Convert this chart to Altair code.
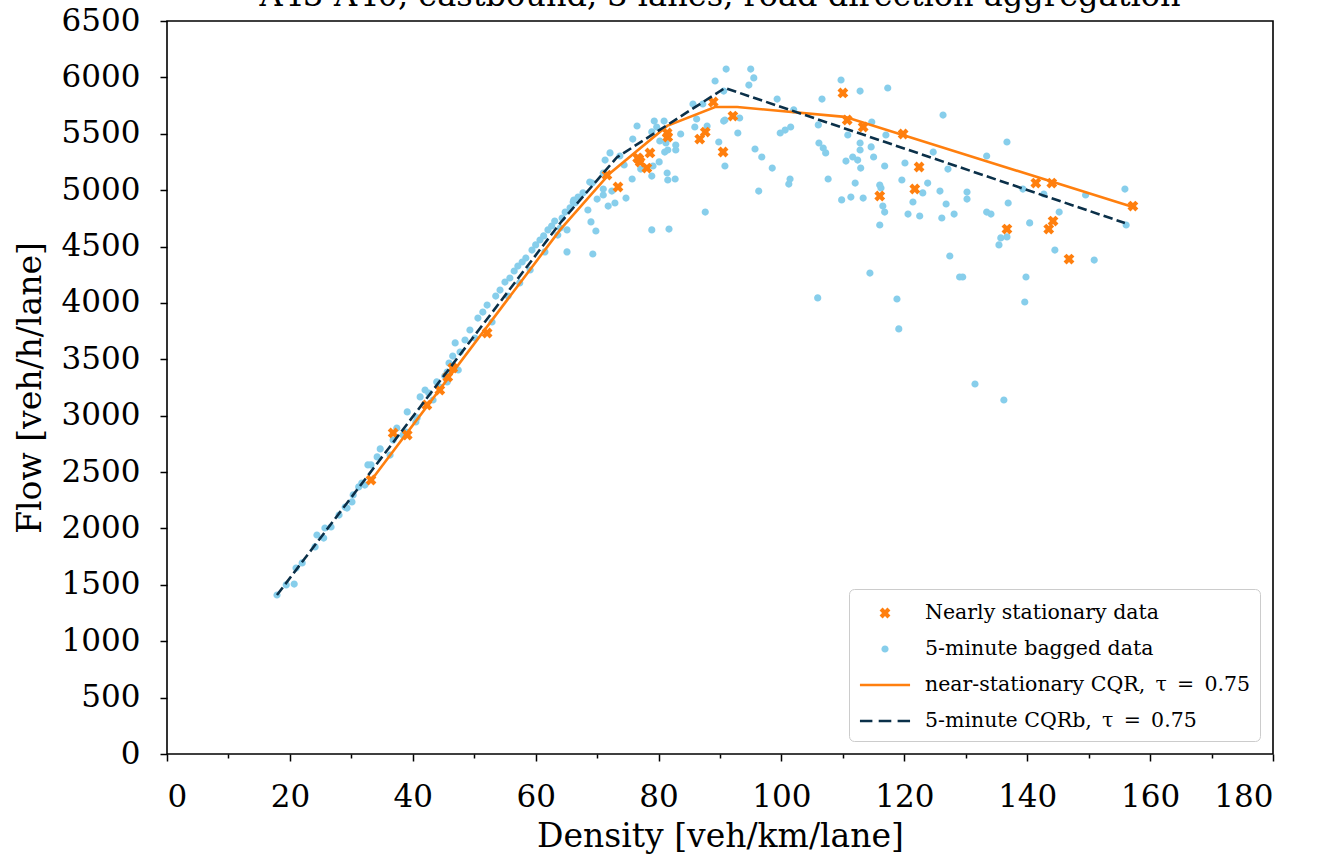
import altair as alt
import pandas as pd
import numpy as np

# ---------------- data ----------------
blue_density = [17.9, 19.4, 20.7, 21.0, 22.0, 24.1, 24.4, 25.5, 25.7, 26.7, 28.0, 29.0, 29.3, 30.1, 30.3,
                31.2, 31.7, 32.2, 32.7, 33.2, 34.2, 34.7, 36.3, 36.8, 37.4, 38.4, 38.9, 39.1, 40.7, 40.5,
                41.2, 42.0, 42.6, 43.3, 43.9, 44.4, 45.2, 45.6, 45.6, 45.9, 46.5, 46.9, 47.4, 47.7, 48.5,
                49.3, 50.1, 50.6, 51.4, 52.1, 52.9, 53.5, 54.2, 55.0, 55.8, 55.5, 56.5, 57.1, 57.8, 57.4,
                58.4, 59.1, 59.4, 60.0, 60.7, 61.3, 62.0, 61.5, 62.6, 63.1, 63.6, 64.3, 64.8, 65.6, 66.2,
                64.0, 65.1, 65.1, 66.4, 66.9, 66.1, 67.7, 68.5, 69.0, 69.8, 69.3, 68.8, 69.2, 70.0, 71.0,
                71.0, 71.0, 71.3, 72.1, 71.8, 72.4, 72.9, 73.7, 74.4, 74.7, 75.7, 75.8, 76.5, 77.1, 78.9,
                78.9, 78.9, 79.1, 79.3, 79.7, 80.1, 80.2, 80.9, 81.0, 81.2, 81.4, 81.5, 81.5, 81.7, 82.7,
                82.8, 82.8, 83.6, 85.6, 85.9, 86.2, 87.2, 87.6, 87.9, 89.2, 89.8, 90.6, 90.6, 90.8, 90.8,
                91.0, 92.9, 93.2, 94.7, 95.0, 95.5, 95.7, 96.3, 96.8, 98.5, 99.3, 99.8, 100.6, 101.2, 101.4,
                101.5, 102.0, 105.9, 106.0, 106.1, 106.6, 106.8, 107.2, 107.6, 109.7, 109.8, 110.5, 110.8,
                111.3, 111.6, 112.0, 112.4, 112.8, 112.8, 112.8, 112.9, 113.3, 114.4, 114.6, 114.7, 115.0,
                116.0, 116.0, 116.2, 116.5, 116.8, 116.8, 117.0, 117.3, 118.8, 119.1, 119.6, 120.1, 120.6,
                121.4, 122.5, 123.0, 123.8, 124.7, 125.8, 126.1, 126.3, 126.8, 127.1, 127.4, 128.1, 129.0,
                129.5, 130.2, 130.2, 131.5, 133.4, 133.4, 134.1, 135.4, 135.7, 136.2, 136.7, 136.7, 136.9,
                139.3, 139.6, 139.8, 140.4, 142.7, 144.5, 145.2, 149.5, 150.9, 155.9, 156.1]
blue_flow = [1410, 1499, 1507, 1649, 1694, 1836, 1942, 1915, 2004, 2013, 2119, 2190, 2181, 2235, 2297,
             2368, 2403, 2385, 2563, 2563, 2634, 2705, 2651, 2784, 2891, 2829, 2855, 3033, 2980, 2944,
             3166, 3228, 3201, 3139, 3299, 3254, 3352, 3387, 3299, 3467, 3529, 3645, 3405, 3565, 3671,
             3760, 3689, 3866, 3919, 3981, 3831, 4061, 4114, 4185, 4221, 4061, 4283, 4327, 4363, 4177,
             4398, 4292, 4469, 4514, 4558, 4594, 4647, 4452, 4682, 4726, 4602, 4753, 4806, 4842, 4912,
             4664, 4647, 4452, 4886, 4939, 4895, 4975, 4824, 4718, 4638, 4434, 5072, 5063, 4921, 5010,
             5152, 4957, 5267, 5330, 4859, 4992, 4886, 5303, 5223, 4930, 5099, 5453, 5569, 5187, 5516,
             5125, 4647, 5214, 5613, 5560, 5250, 5436, 5613, 5338, 5418, 5152, 5356, 5090, 4655, 5099,
             5400, 5356, 5498, 5764, 5560, 5631, 5764, 4806, 5569, 5968, 5427, 5879, 5613, 5622, 5214,
             6074, 5507, 5640, 5932, 6074, 5995, 5365, 4992, 5294, 5196, 5808, 5507, 5533, 5054, 5099,
             5560, 5711, 4044, 5578, 5418, 5808, 5374, 5330, 5099, 5977, 4913, 5258, 5489,
             4939, 5294, 5063, 5267, 5879, 5418, 5356, 5196, 4930, 4265, 5383, 5604, 5294,
             5045, 4691, 5019, 4859, 4806, 5214, 5489, 5906, 4035, 3769, 5090, 5241, 4788,
             4895, 4771, 4975, 5063, 5338, 4992, 4753, 5666, 4877, 5187, 4416, 4788, 4230,
             4230, 4983, 4921, 3281, 5303, 4806, 4788, 4514, 4576, 3139, 4585, 5427, 4886,
             5010, 4008, 4230, 4709, 4966, 4469, 4806, 4957, 4380, 5010, 4691]

orange_density = [33.2, 36.8, 39.1, 42.3, 44.4, 45.7, 46.5, 52.1, 71.6, 73.4, 76.6, 76.8, 77.0, 78.1,
                  78.6, 81.4, 81.5, 86.7, 87.6, 88.9, 90.5, 92.1, 110.0, 110.7, 113.3, 116.0, 119.8,
                  121.7, 122.4, 136.7, 141.4, 143.5, 144.0, 144.2, 146.8, 157.2]
orange_flow = [2430, 2847, 2829, 3095, 3228, 3343, 3423, 3733, 5134, 5028, 5285, 5276, 5250, 5196,
               5330, 5507, 5471, 5453, 5515, 5782, 5338, 5657, 5862, 5622, 5560, 4948, 5498,
               5010, 5205, 4655, 5063, 4655, 5063, 4726, 4389, 4859]

cqr_density = [33.0, 64.0, 72.1, 81.4, 89.2, 92.8, 110.3, 157.2]
cqr_flow = [2410, 4650, 5150, 5570, 5737, 5737, 5650, 4850]

cqrb_density = [17.9, 64.0, 73.2, 90.8, 155.9]
cqrb_flow = [1410, 4709, 5290, 5906, 4709]

series_names = ["Nearly stationary data", "5-minute bagged data",
                "near-stationary CQR,\u2002τ\u2002=\u20020.75", "5-minute CQRb,\u2002τ\u2002=\u20020.75"]
series_colors = ["#ff7f0e", "#87ceeb", "#ff7f0e", "#0b3049"]

x_ticks = list(range(0, 181, 10))
y_ticks = list(range(0, 6501, 250))

# ---------------- symbol shapes (unit square -1..1) ----------------
def x_marker(L=0.37, w=0.14):
    pts = [(-w, L), (w, L), (w, w), (L, w), (L, -w), (w, -w), (w, -L), (-w, -L),
           (-w, -w), (-L, -w), (-L, w), (-w, w)]
    c = np.cos(np.pi / 4)
    rot = [((px - py) * c, (px + py) * c) for px, py in pts]
    return "M" + "L".join(f"{a:.3f},{b:.3f}" for a, b in rot) + "Z"

def circle(r=0.24):
    return f"M{r},0A{r},{r} 0 1,1 {-r},0A{r},{r} 0 1,1 {r},0Z"

def rect(x0, x1, h=0.085):
    return f"M{x0},{-h}H{x1}V{h}H{x0}Z"

line_path = rect(-1.67, 1.67)
dash_path = rect(-1.67, -0.84) + " " + rect(-0.42, 0.42) + " " + rect(0.84, 1.67)
series_shapes = [x_marker(), circle(), line_path, dash_path]

# ---------------- tables ----------------
pts = pd.concat([
    pd.DataFrame({"density": blue_density, "flow": blue_flow, "series": series_names[1]}),
    pd.DataFrame({"density": orange_density, "flow": orange_flow, "series": series_names[0]}),
], ignore_index=True)
cqr = pd.DataFrame({"density": cqr_density, "flow": cqr_flow})
cqrb = pd.DataFrame({"density": cqrb_density, "flow": cqrb_flow})

FONT = "DejaVu Serif"

x_enc = alt.X("density:Q", scale=alt.Scale(domain=[0, 180], nice=False),
              axis=alt.Axis(values=x_ticks, title="Density [veh/km/lane]", format="d",
                            labelExpr="datum.value % 20 === 0 ? datum.label : ''",
                            labelPadding=21, titlePadding=8,
                            tickSize={"condition": {"test": "datum.value % 20 === 0", "value": 7}, "value": 4}))
y_enc = alt.Y("flow:Q", scale=alt.Scale(domain=[0, 6500], nice=False),
              axis=alt.Axis(values=y_ticks, title="Flow [veh/h/lane]", format="d",
                            labelExpr="datum.value % 500 === 0 ? datum.label : ''",
                            labelPadding=20, titlePadding=14,
                            tickSize={"condition": {"test": "datum.value % 500 === 0", "value": 7}, "value": 4}))

points = alt.Chart(pts).mark_point(filled=True, size=900, opacity=1, strokeWidth=0).encode(
    x=x_enc, y=y_enc,
    color=alt.Color("series:N", scale=alt.Scale(domain=series_names, range=series_colors),
                    legend=alt.Legend(title=None, orient="bottom-right", offset=13,
                                      symbolSize=900, symbolStrokeWidth=0, symbolOpacity=1,
                                      symbolOffset=12, labelOffset=25, padding=9, rowPadding=10,
                                      labelFont=FONT, labelFontSize=20.5, labelColor="black",
                                      labelLimit=400,
                                      fillColor="white", strokeColor="#cccccc", cornerRadius=5)),
    shape=alt.Shape("series:N", scale=alt.Scale(domain=series_names, range=series_shapes),
                    legend=alt.Legend(title=None, orient="bottom-right")),
)

line_cqr = alt.Chart(cqr).mark_line(color="#ff7f0e", strokeWidth=2.6).encode(x="density:Q", y="flow:Q")
line_cqrb = alt.Chart(cqrb).mark_line(color="#0b3049", strokeWidth=2.6, strokeDash=[9.5, 4.2]).encode(
    x="density:Q", y="flow:Q")

chart = alt.layer(points, line_cqr, line_cqrb).properties(
    width=1106, height=733,
    autosize=alt.AutoSizeParams(type="none"),
    padding={"left": 167, "top": 21, "right": 47, "bottom": 107},
    title=alt.TitleParams("A43-A40, eastbound, 3 lanes, road direction aggregation",
                          font=FONT, fontSize=32, fontWeight="normal", color="black",
                          anchor="middle", frame="group", offset=-33, baseline="alphabetic"),
).configure_view(stroke="black", strokeWidth=1.6).configure_axis(
    grid=False, domain=False, labelFont=FONT, labelFontSize=31, labelColor="black",
    titleFont=FONT, titleFontSize=33, titleFontWeight="normal", titleColor="black",
    tickColor="black", tickWidth=1.5,
)

chart.save("out.html", embed_options={"renderer": "svg", "actions": False})
